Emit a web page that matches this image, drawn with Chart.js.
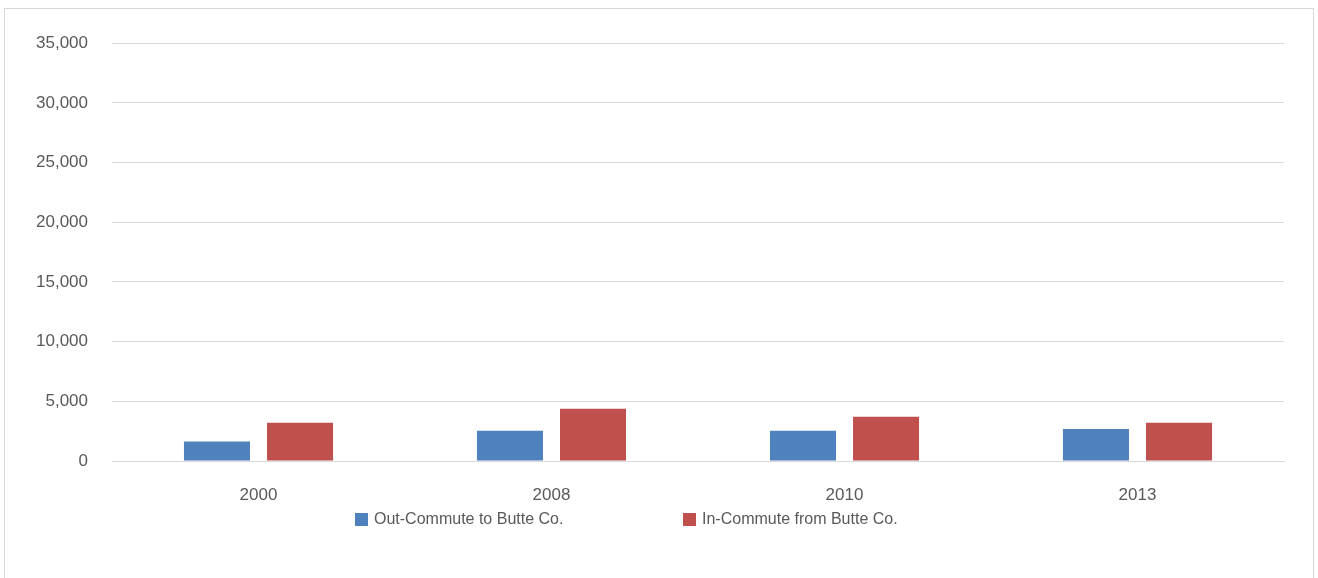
<!DOCTYPE html>
<html>
<head>
<meta charset="utf-8">
<script src="https://cdn.jsdelivr.net/npm/chart.js@4/dist/chart.umd.min.js"></script>
<style>
  html, body { margin: 0; padding: 0; background: #fff; }
  body { width: 1318px; height: 578px; overflow: hidden; position: relative; }
  #frame {
    position: absolute;
    left: 4px;
    top: 8px;
    width: 1308px;
    height: 580px;
    border: 1px solid #d9d9d9;
    background: #fff;
  }
  canvas { display: block; }
  #legend {
    position: absolute;
    left: 355px;
    top: 509px;
    display: flex;
    font-family: "Liberation Sans", Arial, sans-serif;
    font-size: 16px;
    color: #595959;
    line-height: 20px;
  }
  .legend-item { display: flex; align-items: center; width: 328px; white-space: nowrap; }
  .legend-box { width: 13px; height: 13px; margin-right: 6px; flex: none; }
</style>
</head>
<body>
<div id="frame"><canvas id="commuteChart" width="1308" height="568"></canvas></div>
<div id="legend"></div>
<script>
const years = ['2000', '2008', '2010', '2013'];
const outCommute = [1640, 2540, 2540, 2680];
const inCommute = [3200, 4370, 3710, 3200];
const yTicks = [0, 5000, 10000, 15000, 20000, 25000, 30000, 35000];

const textColor = '#595959';
const gridColor = '#d9d9d9';
const fontFamily = '"Liberation Sans", Arial, sans-serif';

// excel style legend: wide spacing between the two entries
const htmlLegend = {
  id: 'htmlLegend',
  afterUpdate(chart) {
    const legendEl = document.getElementById('legend');
    legendEl.innerHTML = '';
    chart.data.datasets.forEach((dataset) => {
      const item = document.createElement('div');
      item.className = 'legend-item';
      const box = document.createElement('span');
      box.className = 'legend-box';
      box.style.background = dataset.backgroundColor;
      const label = document.createElement('span');
      label.textContent = dataset.label;
      item.appendChild(box);
      item.appendChild(label);
      legendEl.appendChild(item);
    });
  }
};

const ctx = document.getElementById('commuteChart');

new Chart(ctx, {
  type: 'bar',
  data: {
    labels: years,
    datasets: [
      {
        label: 'Out-Commute to Butte Co.',
        data: outCommute,
        backgroundColor: '#4f81bd',
        categoryPercentage: 0.567,
        barPercentage: 0.795
      },
      {
        label: 'In-Commute from Butte Co.',
        data: inCommute,
        backgroundColor: '#c0504d',
        categoryPercentage: 0.567,
        barPercentage: 0.795
      }
    ]
  },
  options: {
    responsive: false,
    animation: false,
    devicePixelRatio: 1,
    layout: {
      padding: { top: 25, right: 29, bottom: 76, left: 0 }
    },
    plugins: {
      legend: { display: false },
      tooltip: { enabled: false }
    },
    scales: {
      x: {
        grid: { display: false, drawTicks: false },
        border: { display: true, color: gridColor },
        ticks: {
          color: textColor,
          padding: 24,
          font: { family: fontFamily, size: 17 }
        },
        afterFit: (scale) => { scale.height = 40; }
      },
      y: {
        min: yTicks[0],
        max: yTicks[yTicks.length - 1],
        afterBuildTicks: (scale) => {
          scale.ticks = yTicks.map((v) => ({ value: v }));
        },
        grid: { color: gridColor, drawTicks: false },
        border: { display: false },
        ticks: {
          color: textColor,
          padding: 24,
          font: { family: fontFamily, size: 17 },
          callback: (value) => Number(value).toLocaleString('en-US')
        },
        afterFit: (scale) => { scale.width = 107; }
      }
    }
  },
  plugins: [htmlLegend]
});
</script>
</body>
</html>
